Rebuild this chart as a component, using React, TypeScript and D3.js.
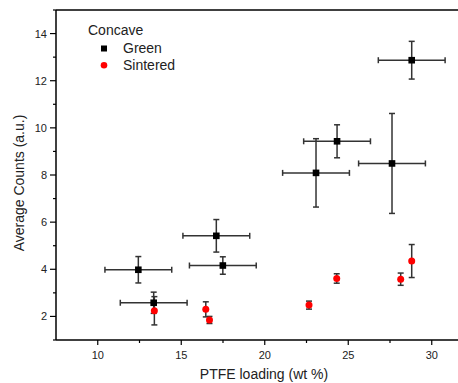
import React from "react";
import * as d3 from "d3";

const greenX = [12.43, 13.35, 17.1, 17.49, 23.07, 24.33, 27.62, 28.8];
const greenY = [3.98, 2.58, 5.42, 4.16, 8.09, 9.43, 8.49, 12.87];
const greenYErr = [0.56, 0.45, 0.69, 0.37, 1.45, 0.7, 2.12, 0.8];
const greenXErr = [2.0, 2.0, 2.0, 2.0, 2.0, 2.0, 2.0, 2.0];

const redX = [13.39, 16.47, 16.69, 22.65, 24.31, 28.14, 28.8];
const redY = [2.24, 2.3, 1.85, 2.48, 3.61, 3.58, 4.35];
const redYErr = [0.6, 0.32, 0.15, 0.17, 0.2, 0.26, 0.7];

const xMajor = [10, 15, 20, 25, 30];
const xMinor = [12.5, 17.5, 22.5, 27.5];
const yMajor = [2, 4, 6, 8, 10, 12, 14];
const yMinor = [1, 3, 5, 7, 9, 11, 13, 15];

const W = 458;
const H = 383;
const font = "Arial, 'Liberation Sans', sans-serif";
const txt = "#222";

export default function App() {
  const x = d3.scaleLinear().domain([7.5, 32.5]).range([56, 473.5]);
  const y = d3.scaleLinear().domain([1, 15]).range([340, 10]);
  const x0 = x(7.5);
  const y0 = y(1);
  const eb = "#333";
  const cap = 3;

  const errBars = (xs: number[], ys: number[], ye: number[], xe: number[] | null, key: string) =>
    xs.map((xv, i) => {
      const cx = x(xv);
      const cy = y(ys[i]);
      const t = y(ys[i] + ye[i]);
      const b = y(ys[i] - ye[i]);
      return (
        <g key={key + i} stroke={eb} strokeWidth={1.5} fill="none">
          <line x1={cx} x2={cx} y1={t} y2={b} />
          <line x1={cx - cap} x2={cx + cap} y1={t} y2={t} />
          <line x1={cx - cap} x2={cx + cap} y1={b} y2={b} />
          {xe && (
            <>
              <line x1={x(xv - xe[i])} x2={x(xv + xe[i])} y1={cy} y2={cy} />
              <line x1={x(xv - xe[i])} x2={x(xv - xe[i])} y1={cy - cap} y2={cy + cap} />
              <line x1={x(xv + xe[i])} x2={x(xv + xe[i])} y1={cy - cap} y2={cy + cap} />
            </>
          )}
        </g>
      );
    });

  return (
    <svg
      width={W}
      height={H}
      style={{ position: "absolute", left: 0, top: 0, background: "#fff" }}
      fontFamily={font}
    >
      <rect x={0} y={0} width={W} height={H} fill="#fff" />
      {/* axes */}
      <line x1={x0} x2={W} y1={y0} y2={y0} stroke="#000" strokeWidth={1.5} />
      <line x1={x0} x2={W} y1={y(15)} y2={y(15)} stroke="#000" strokeWidth={1.5} />
      <line x1={x0} x2={x0} y1={y(15)} y2={y0} stroke="#000" strokeWidth={1.5} />
      {xMajor.map((v) => (
        <g key={"xm" + v}>
          <line x1={x(v)} x2={x(v)} y1={y0} y2={y0 + 5} stroke="#000" strokeWidth={1.2} />
          <text x={x(v)} y={y0 + 19} fontSize={11} textAnchor="middle" fill={txt}>
            {v}
          </text>
        </g>
      ))}
      {xMinor.map((v) => (
        <line key={"xn" + v} x1={x(v)} x2={x(v)} y1={y0} y2={y0 + 3} stroke="#000" strokeWidth={1.2} />
      ))}
      {yMajor.map((v) => (
        <g key={"ym" + v}>
          <line x1={x0 - 6} x2={x0} y1={y(v)} y2={y(v)} stroke="#000" strokeWidth={1.2} />
          <text x={x0 - 9} y={y(v) + 4} fontSize={11} textAnchor="end" fill={txt}>
            {v}
          </text>
        </g>
      ))}
      {yMinor.map((v) => (
        <line key={"yn" + v} x1={x0 - 3} x2={x0} y1={y(v)} y2={y(v)} stroke="#000" strokeWidth={1.2} />
      ))}
      <text x={264} y={379} fontSize={14} textAnchor="middle" fill={txt}>
        PTFE loading (wt %)
      </text>
      <text
        transform={`translate(24, ${(y(15) + y0) / 2 + 8}) rotate(-90)`}
        fontSize={14}
        textAnchor="middle"
        fill={txt}
      >
        Average Counts (a.u.)
      </text>

      {/* error bars */}
      {errBars(greenX, greenY, greenYErr, greenXErr, "g")}
      {errBars(redX, redY, redYErr, null, "r")}

      {/* markers */}
      {greenX.map((v, i) => (
        <rect key={"gs" + i} x={x(v) - 3.3} y={y(greenY[i]) - 3.3} width={6.6} height={6.6} fill="#000" />
      ))}
      {redX.map((v, i) => (
        <circle key={"rc" + i} cx={x(v)} cy={y(redY[i])} r={3.5} fill="#ff0000" />
      ))}

      {/* legend */}
      <text x={88} y={35} fontSize={14} fill={txt}>
        Concave
      </text>
      <rect x={101} y={45.5} width={6} height={6} fill="#000" />
      <text x={123} y={53} fontSize={14} fill={txt}>
        Green
      </text>
      <circle cx={104} cy={65.3} r={3.3} fill="#ff0000" />
      <text x={123} y={70} fontSize={14} fill={txt}>
        Sintered
      </text>
    </svg>
  );
}
